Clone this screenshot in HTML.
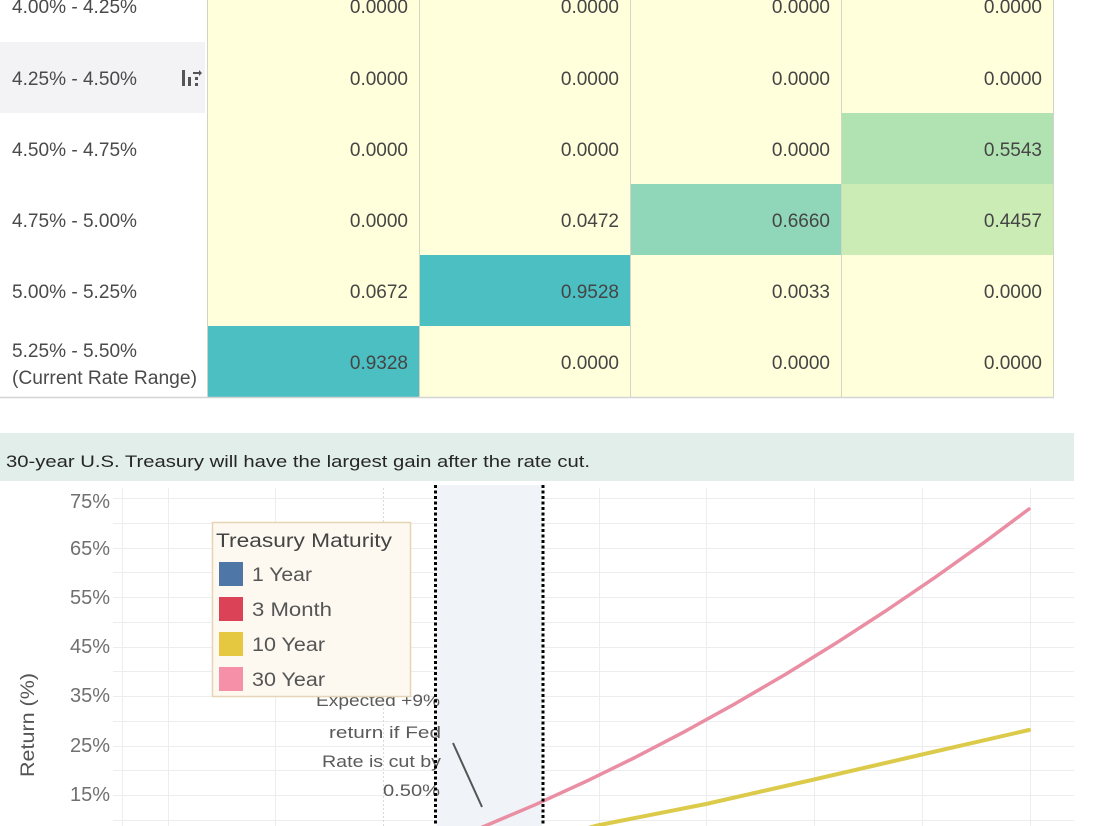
<!DOCTYPE html>
<html>
<head>
<meta charset="utf-8">
<style>
  html,body{margin:0;padding:0;background:#fff;}
  body{width:1100px;height:826px;overflow:hidden;}
  svg{display:block;}
  text{font-family:"Liberation Sans", sans-serif;}
</style>
</head>
<body>
<svg width="1100" height="826" viewBox="0 0 1100 826" xmlns="http://www.w3.org/2000/svg">
  <!-- ===== TABLE ===== -->
  <rect x="0" y="42" width="205" height="71" fill="#f3f2f5"/>
  <rect x="208" y="-30" width="845" height="427" fill="#ffffdb"/>
  <rect x="841" y="113" width="212" height="71" fill="#b1e3b2"/>
  <rect x="630" y="184" width="211" height="71" fill="#90d7b9"/>
  <rect x="841" y="184" width="212" height="71" fill="#cbecb5"/>
  <rect x="419" y="255" width="211" height="71" fill="#4cbfc3"/>
  <rect x="208" y="326" width="211" height="71" fill="#4cbfc3"/>
  <g stroke="#d3d3c6" stroke-width="1">
    <line x1="207.5" y1="0" x2="207.5" y2="397"/>
    <line x1="419.5" y1="0" x2="419.5" y2="397"/>
    <line x1="630.5" y1="0" x2="630.5" y2="397"/>
    <line x1="841.5" y1="0" x2="841.5" y2="397"/>
    <line x1="1053.5" y1="0" x2="1053.5" y2="397"/>
  </g>
  <line x1="0" y1="397.5" x2="1054" y2="397.5" stroke="#d4d4d4" stroke-width="1.5"/>

  <g fill="#4a4a4a" font-size="19">
    <text x="12" y="13" textLength="125" lengthAdjust="spacingAndGlyphs">4.00% - 4.25%</text>
    <text x="12" y="85" textLength="125" lengthAdjust="spacingAndGlyphs">4.25% - 4.50%</text>
    <text x="12" y="156" textLength="125" lengthAdjust="spacingAndGlyphs">4.50% - 4.75%</text>
    <text x="12" y="227" textLength="125" lengthAdjust="spacingAndGlyphs">4.75% - 5.00%</text>
    <text x="12" y="298" textLength="125" lengthAdjust="spacingAndGlyphs">5.00% - 5.25%</text>
    <text x="12" y="357" textLength="125" lengthAdjust="spacingAndGlyphs">5.25% - 5.50%</text>
    <text x="12" y="384" textLength="185" lengthAdjust="spacingAndGlyphs">(Current Rate Range)</text>
  </g>
  <g fill="#555">
    <rect x="182" y="70" width="3" height="16"/>
    <rect x="188" y="77" width="3" height="9"/>
    <rect x="195" y="83" width="3" height="3"/>
    <rect x="195" y="77" width="3" height="3"/>
    <path d="M193 72 L199 72 L199 70 L202 73 L199 76 L199 74 L193 74 Z"/>
  </g>

  <g fill="#454545" font-size="19" text-anchor="end">
    <text x="408" y="13">0.0000</text><text x="619" y="13">0.0000</text><text x="830" y="13">0.0000</text><text x="1042" y="13">0.0000</text>
    <text x="408" y="85">0.0000</text><text x="619" y="85">0.0000</text><text x="830" y="85">0.0000</text><text x="1042" y="85">0.0000</text>
    <text x="408" y="156">0.0000</text><text x="619" y="156">0.0000</text><text x="830" y="156">0.0000</text><text x="1042" y="156">0.5543</text>
    <text x="408" y="227">0.0000</text><text x="619" y="227">0.0472</text><text x="830" y="227">0.6660</text><text x="1042" y="227">0.4457</text>
    <text x="408" y="298">0.0672</text><text x="619" y="298">0.9528</text><text x="830" y="298">0.0033</text><text x="1042" y="298">0.0000</text>
    <text x="408" y="369">0.9328</text><text x="619" y="369">0.0000</text><text x="830" y="369">0.0000</text><text x="1042" y="369">0.0000</text>
  </g>

  <!-- ===== TITLE BAR ===== -->
  <rect x="0" y="433" width="1074" height="48" fill="#e2eeea"/>
  <text x="6" y="467" font-size="17" fill="#262626" textLength="584" lengthAdjust="spacingAndGlyphs">30-year U.S. Treasury will have the largest gain after the rate cut.</text>

  <!-- ===== CHART ===== -->
  <g stroke="#ededf0" stroke-width="1">
    <line x1="113" y1="498.5" x2="1074" y2="498.5"/>
    <line x1="113" y1="523.5" x2="1074" y2="523.5"/>
    <line x1="113" y1="548.5" x2="1074" y2="548.5"/>
    <line x1="113" y1="572.5" x2="1074" y2="572.5"/>
    <line x1="113" y1="597.5" x2="1074" y2="597.5"/>
    <line x1="113" y1="622.5" x2="1074" y2="622.5"/>
    <line x1="113" y1="647.5" x2="1074" y2="647.5"/>
    <line x1="113" y1="671.5" x2="1074" y2="671.5"/>
    <line x1="113" y1="696.5" x2="1074" y2="696.5"/>
    <line x1="113" y1="721.5" x2="1074" y2="721.5"/>
    <line x1="113" y1="746.5" x2="1074" y2="746.5"/>
    <line x1="113" y1="770.5" x2="1074" y2="770.5"/>
    <line x1="113" y1="795.5" x2="1074" y2="795.5"/>
    <line x1="113" y1="820.5" x2="1074" y2="820.5"/>
  </g>
  <g stroke="#ededf0" stroke-width="1">
    <line x1="122.5" y1="488" x2="122.5" y2="826"/>
    <line x1="168.5" y1="488" x2="168.5" y2="826"/>
    <line x1="275.5" y1="488" x2="275.5" y2="826"/>
    <line x1="599.5" y1="488" x2="599.5" y2="826"/>
    <line x1="706.5" y1="488" x2="706.5" y2="826"/>
    <line x1="814.5" y1="488" x2="814.5" y2="826"/>
    <line x1="922.5" y1="488" x2="922.5" y2="826"/>
    <line x1="1030.5" y1="488" x2="1030.5" y2="826"/>
  </g>
  <line x1="383.5" y1="488" x2="383.5" y2="826" stroke="#d8d8de" stroke-width="1" stroke-dasharray="2 2"/>

  <rect x="437" y="485" width="105" height="341" fill="#f0f4f9"/>

  <g fill="#707070" font-size="20" text-anchor="end">
    <text x="110" y="508">75%</text>
    <text x="110" y="555">65%</text>
    <text x="110" y="604">55%</text>
    <text x="110" y="653">45%</text>
    <text x="110" y="702">35%</text>
    <text x="110" y="752">25%</text>
    <text x="110" y="801">15%</text>
  </g>
  <text x="0" y="0" font-size="19" fill="#555" text-anchor="middle" textLength="104" lengthAdjust="spacingAndGlyphs" transform="translate(34,725) rotate(-90)">Return (%)</text>

  <g fill="#5a5a5a" font-size="17" text-anchor="end">
    <text x="440" y="706" textLength="124" lengthAdjust="spacingAndGlyphs">Expected +9%</text>
    <text x="441" y="738" textLength="112" lengthAdjust="spacingAndGlyphs">return if Fed</text>
    <text x="441" y="767" textLength="119" lengthAdjust="spacingAndGlyphs">Rate is cut by</text>
    <text x="440" y="796" textLength="57" lengthAdjust="spacingAndGlyphs">0.50%</text>
  </g>
  <line x1="453" y1="743" x2="482" y2="807" stroke="#555" stroke-width="2"/>

  <path d="M475 830 L485 826 L535 804.8 L585 781.9 L635 757.5 L685 731.4 L735 703.8 L785 674.6 L835 643.8 L885 611.4 L935 577.4 L985 541.8 L1029 509"
        fill="none" stroke="#ea8ea3" stroke-width="3.5" stroke-linecap="round" stroke-linejoin="round"/>
  <path d="M585 829 L597 825.5 L706 804 L814 779.5 L922 754.5 L1029 730"
        fill="none" stroke="#dccb4a" stroke-width="4" stroke-linecap="round" stroke-linejoin="round"/>

  <line x1="435.5" y1="485" x2="435.5" y2="826" stroke="#000" stroke-width="3" stroke-dasharray="3 2.5"/>
  <line x1="543" y1="485" x2="543" y2="826" stroke="#000" stroke-width="3" stroke-dasharray="3 2.5"/>

  <rect x="212.5" y="522.5" width="198" height="174" fill="#fdf9f1" stroke="#e6d5b5" stroke-width="1.5"/>
  <text x="216" y="547" font-size="19" fill="#444" textLength="176" lengthAdjust="spacingAndGlyphs">Treasury Maturity</text>
  <rect x="219" y="562" width="24" height="24" fill="#4e77a8"/>
  <rect x="219" y="597" width="24" height="24" fill="#dc4257"/>
  <rect x="219" y="632" width="24" height="24" fill="#e6c840"/>
  <rect x="219" y="667" width="24" height="24" fill="#f590a8"/>
  <g fill="#555" font-size="19">
    <text x="252" y="581" textLength="60" lengthAdjust="spacingAndGlyphs">1 Year</text>
    <text x="252" y="616" textLength="80" lengthAdjust="spacingAndGlyphs">3 Month</text>
    <text x="252" y="651" textLength="73" lengthAdjust="spacingAndGlyphs">10 Year</text>
    <text x="252" y="686" textLength="73" lengthAdjust="spacingAndGlyphs">30 Year</text>
  </g>
</svg>
</body>
</html>
